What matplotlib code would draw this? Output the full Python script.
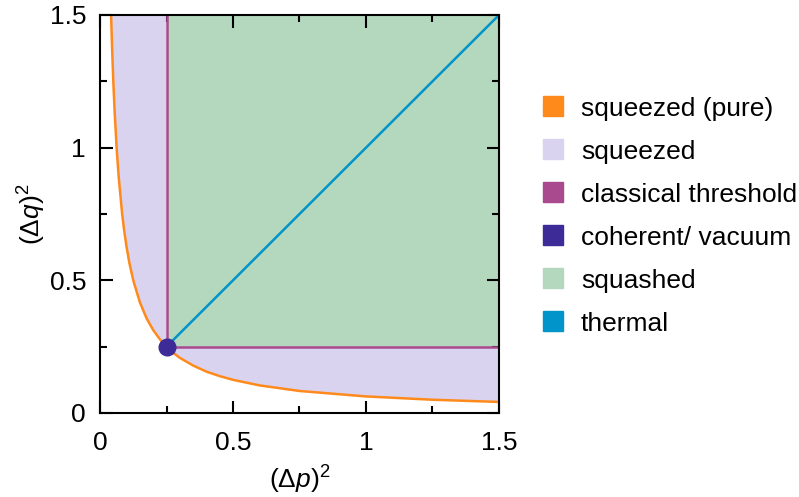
import numpy as np
import matplotlib.pyplot as plt
from matplotlib.lines import Line2D
from matplotlib.ticker import MultipleLocator

plt.rcParams["font.family"] = ["Liberation Sans", "DejaVu Sans"]
plt.rcParams["mathtext.fontset"] = "custom"
plt.rcParams["mathtext.rm"] = "Liberation Sans"
plt.rcParams["mathtext.it"] = "Liberation Sans:italic"

# =====================================================
# DATA
# =====================================================

# minimum-uncertainty boundary (pure squeezed states)
pure_dp2 = [0.0417, 0.045, 0.05, 0.055, 0.0625, 0.07, 0.083, 0.09, 0.1, 0.11,
            0.125, 0.15, 0.175, 0.2, 0.225, 0.25, 0.275, 0.3, 0.35, 0.4,
            0.45, 0.5, 0.6, 0.75, 1.0, 1.25, 1.5]
pure_dq2 = [1.5, 1.389, 1.25, 1.136, 1.0, 0.893, 0.753, 0.694, 0.625, 0.568,
            0.5, 0.417, 0.357, 0.3125, 0.278, 0.25, 0.227, 0.208, 0.179, 0.156,
            0.139, 0.125, 0.104, 0.083, 0.0625, 0.05, 0.0417]

vacuum = 0.25      # coherent state / vacuum variance
axis_max = 1.5

labels = ["squeezed (pure)", "squeezed", "classical threshold",
          "coherent/ vacuum", "squashed", "thermal"]
colors = ["#ff8a1c", "#d9d3f0", "#aa4a8e", "#3d2c98", "#b4d8be", "#0094cb"]
c_pure, c_sq, c_thr, c_coh, c_squash, c_th = colors

# =====================================================
# PLOT
# =====================================================

fig = plt.figure(figsize=(7.99, 4.97), dpi=100)
ax = fig.add_axes([100 / 799, 84 / 497, 399 / 799, 398 / 497])

x = np.array(pure_dp2)
y = np.array(pure_dq2)

# squeezed region: above the boundary, outside the squashed box
sq_x = np.concatenate([x, [axis_max, vacuum, vacuum]])
sq_y = np.concatenate([y, [vacuum, vacuum, axis_max]])
ax.fill(sq_x, sq_y, color=c_sq, lw=0)

# squashed region
ax.fill_between([vacuum, axis_max], vacuum, axis_max, color=c_squash, lw=0)

# classical threshold
ax.plot([vacuum, vacuum], [vacuum, axis_max], color=c_thr, lw=1.8)
ax.plot([vacuum, axis_max], [vacuum, vacuum], color=c_thr, lw=1.8)

# thermal states
ax.plot([vacuum, axis_max], [vacuum, axis_max], color=c_th, lw=1.8)

# pure squeezed boundary
ax.plot(x, y, color=c_pure, lw=1.8, solid_capstyle="butt")

# coherent / vacuum point
ax.plot([vacuum], [vacuum], "o", color=c_coh, ms=12, zorder=5, clip_on=False)

ax.set_xlim(0, axis_max)
ax.set_ylim(0, axis_max)

ax.xaxis.set_major_locator(MultipleLocator(0.5))
ax.yaxis.set_major_locator(MultipleLocator(0.5))
ax.xaxis.set_minor_locator(MultipleLocator(0.25))
ax.yaxis.set_minor_locator(MultipleLocator(0.25))
ax.xaxis.set_major_formatter(plt.FuncFormatter(lambda v, p: f"{v:g}"))
ax.yaxis.set_major_formatter(plt.FuncFormatter(lambda v, p: f"{v:g}"))

ax.tick_params(which="both", direction="in", top=True, right=True,
               width=1.5, labelsize=19)
ax.tick_params(axis="x", pad=13)
ax.tick_params(axis="y", pad=10)
ax.tick_params(which="major", length=9)
ax.tick_params(which="minor", length=5)
for s in ax.spines.values():
    s.set_linewidth(1.5)

ax.set_xlabel(r"$(\Delta p)^2$", fontsize=19, labelpad=6)
ax.set_ylabel(r"$(\Delta q)^2$", fontsize=19, labelpad=1)

# =====================================================
# LEGEND
# =====================================================

handles = [Line2D([], [], marker="s", ls="", color=c, ms=14) for c in colors]
fig.legend(handles, labels, loc="center left",
           bbox_to_anchor=(540 / 799, 0.565), frameon=False,
           fontsize=19, handlelength=1.0, handletextpad=0.55,
           labelspacing=0.72, borderpad=0, borderaxespad=0)

fig.savefig("out.png", dpi=100)
